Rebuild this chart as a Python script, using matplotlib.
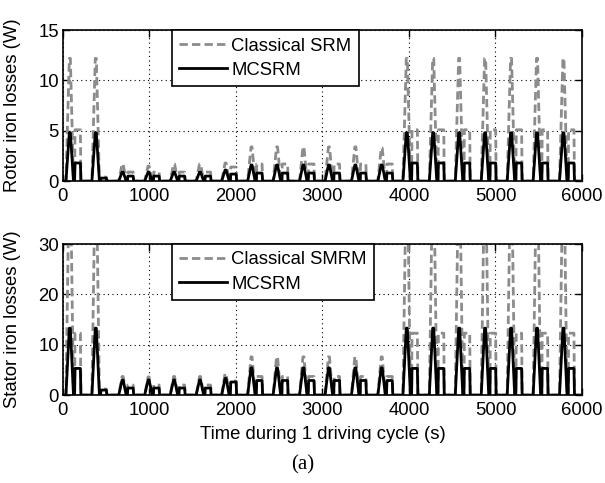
import numpy as np
import matplotlib
matplotlib.use("Agg")
import matplotlib.pyplot as plt

plt.rcParams["font.family"] = ["Liberation Sans", "DejaVu Sans"]
plt.rcParams["font.size"] = 13.3

# cycle start times (s)
cycle_t = [80, 380, 690, 990, 1285, 1585, 1880, 2180, 2475, 2780,
           3075, 3380, 3685, 3975, 4280, 4580, 4880, 5180, 5480, 5785]

# rotor iron losses (W): first peak / second bump per cycle
rotor_cls_pk1 = [12.2, 12.2, 1.7, 1.5, 1.7, 1.7, 1.8, 3.4, 3.4, 3.4,
                 3.4, 3.4, 3.3, 12.2, 12.2, 12.2, 12.2, 12.2, 12.2, 12.2]
rotor_cls_pk2 = [5.1, 0.4, 0.9, 0.9, 0.9, 0.9, 1.4, 1.7, 1.7, 1.7,
                 1.7, 1.7, 1.7, 5.1, 5.1, 5.1, 5.1, 5.1, 5.1, 5.1]
rotor_mc_pk1 = [4.8, 4.8, 0.9, 0.9, 0.9, 0.9, 1.1, 1.6, 1.6, 1.6,
                1.6, 1.6, 1.6, 4.8, 4.8, 4.8, 4.8, 4.8, 4.8, 4.8]
rotor_mc_pk2 = [1.8, 0.3, 0.5, 0.5, 0.5, 0.5, 0.7, 0.8, 0.8, 0.8,
                0.8, 0.8, 0.8, 1.8, 1.8, 1.8, 1.8, 1.8, 1.8, 1.8]

# stator iron losses (W)
stator_cls_pk1 = [45, 45, 3.7, 3.6, 3.7, 3.7, 4.3, 7.6, 7.6, 7.6,
                  7.6, 7.6, 7.6, 45, 45, 45, 45, 45, 45, 45]
stator_cls_pk2 = [12.3, 1.2, 2.0, 2.0, 2.0, 2.0, 2.8, 3.7, 3.7, 3.7,
                  3.7, 3.7, 3.7, 12.3, 12.3, 12.3, 12.3, 12.3, 12.3, 12.3]
stator_mc_pk1 = [13.3, 13.3, 3.0, 3.0, 3.0, 3.0, 3.3, 5.4, 5.4, 5.4,
                 5.4, 5.4, 5.4, 13.3, 13.3, 13.3, 13.3, 13.3, 13.3, 13.3]
stator_mc_pk2 = [5.3, 1.0, 1.4, 1.4, 1.4, 1.4, 2.6, 2.9, 2.9, 2.9,
                 2.9, 2.9, 2.9, 5.3, 5.3, 5.3, 5.3, 5.3, 5.3, 5.3]


def profile(pk1, pk2):
    # one peak followed by a flat bump for every cycle
    tt, yy = [0], [0]
    for t, a, b in zip(cycle_t, pk1, pk2):
        tt += [t - 45, t - 6, t + 6, t + 42, t + 55, t + 60, t + 122, t + 128]
        yy += [0, a, a, 0, 0, b, b, 0]
    tt.append(6000)
    yy.append(0)
    return np.array(tt), np.array(yy)


fig = plt.figure(figsize=(6.05, 4.83), dpi=100)
ax1 = fig.add_axes([0.104, 0.625, 0.858, 0.3126])
ax2 = fig.add_axes([0.104, 0.182, 0.858, 0.3126])

grey = "0.55"
dash = (0, (3, 1.5))

t, y = profile(rotor_cls_pk1, rotor_cls_pk2)
ax1.plot(t, y, color=grey, lw=2, linestyle=dash, label="Classical SRM")
t, y = profile(rotor_mc_pk1, rotor_mc_pk2)
ax1.plot(t, y, color="black", lw=2, label="MCSRM")

t, y = profile(stator_cls_pk1, stator_cls_pk2)
ax2.plot(t, y, color=grey, lw=2, linestyle=dash, label="Classical SMRM")
t, y = profile(stator_mc_pk1, stator_mc_pk2)
ax2.plot(t, y, color="black", lw=2, label="MCSRM")

ax1.set_ylim(0, 15)
ax1.set_yticks([0, 5, 10, 15])
ax1.set_ylabel("Rotor iron losses (W)")
ax2.set_ylim(0, 30)
ax2.set_yticks([0, 10, 20, 30])
ax2.set_ylabel("Stator iron losses (W)")
ax2.set_xlabel("Time during 1 driving cycle (s)", labelpad=5)

for ax in (ax1, ax2):
    ax.set_xlim(0, 6000)
    ax.set_xticks([0, 1000, 2000, 3000, 4000, 5000, 6000])
    ax.grid(True, color="black", linestyle=(0, (1, 3)), lw=0.8)
    ax.tick_params(direction="in", top=True, right=True, length=5,
                   width=1)
    ax.tick_params(axis="x", pad=5)
    ax.tick_params(axis="y", pad=3)
    for s in ax.spines.values():
        s.set_linewidth(1.2)
    ax.yaxis.set_label_coords(-0.08, 0.5)
    leg = ax.legend(loc="upper left", bbox_to_anchor=(0.21, 1.0),
                    fancybox=False, framealpha=1, edgecolor="black",
                    handlelength=2.6, handletextpad=0.2, borderpad=0.4,
                    labelspacing=0.4, borderaxespad=0)
    leg.get_frame().set_linewidth(1.2)

fig.text(0.5, 0.037, "(a)", ha="center", va="center",
         family="Liberation Serif", fontsize=15)

fig.savefig("out.png", dpi=100)
